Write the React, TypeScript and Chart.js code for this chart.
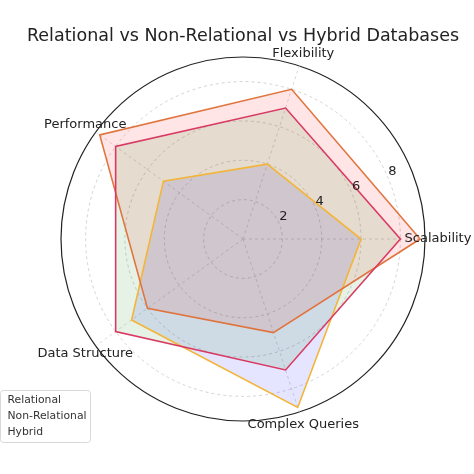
import { useEffect, useRef } from "react";
import { Chart, registerables } from "chart.js";
import type { Plugin } from "chart.js";

Chart.register(...registerables);

// clockwise from the right-hand axis (matplotlib goes the other way round)
const CATEGORIES = ["Scalability", "Complex Queries", "Data Structure", "Performance", "Flexibility"];
const SERIES_NAMES = ["Relational", "Non-Relational", "Hybrid"];
const RELATIONAL = [6, 9, 7, 5, 4];
const NON_RELATIONAL = [9, 5, 6, 9, 8];
const HYBRID = [8, 7, 8, 8, 7];
const R_TICKS = [2, 4, 6, 8];
const R_MAX = 9.25;

const LINE_COLORS = ["#f2b53a", "#e0743f", "#d93a62"];
const FILL_COLORS = ["rgba(0,0,255,0.1)", "rgba(255,0,0,0.1)", "rgba(0,128,0,0.1)"];

const FONT = "'DejaVu Sans', sans-serif";
const TITLE = "Relational vs Non-Relational vs Hybrid Databases";

const overlay: Plugin<"radar"> = {
  id: "overlay",
  afterDatasetsDraw(chart) {
    const { ctx } = chart;
    const scale = chart.scales.r as any;
    const a = (22.5 * Math.PI) / 180;
    ctx.save();
    ctx.font = `13px ${FONT}`;
    ctx.fillStyle = "#222";
    ctx.textAlign = "center";
    ctx.textBaseline = "middle";
    R_TICKS.forEach((v) => {
      const d = scale.getDistanceFromCenterForValue(v);
      const x = scale.xCenter + d * Math.cos(a) + 4;
      const y = scale.yCenter - d * Math.sin(a) - 7;
      ctx.fillText(String(v), x, y);
    });
    ctx.restore();
  },
  afterDraw(chart) {
    const { ctx } = chart;
    const scale = chart.scales.r as any;
    ctx.save();

    // title
    ctx.font = `17.5px ${FONT}`;
    ctx.fillStyle = "#222";
    ctx.textAlign = "center";
    ctx.textBaseline = "middle";
    ctx.fillText(TITLE, scale.xCenter, 36);

    // category labels
    ctx.font = `13px ${FONT}`;
    CATEGORIES.forEach((label, i) => {
      const p = scale.getPointPosition(i, scale.drawingArea + 13);
      ctx.fillText(label, p.x, p.y);
    });

    // legend (text only, like the original)
    ctx.beginPath();
    ctx.roundRect(0.5, 390.5, 90, 52, 3);
    ctx.fillStyle = "rgba(255,255,255,0.8)";
    ctx.fill();
    ctx.strokeStyle = "#d8d8d8";
    ctx.lineWidth = 1;
    ctx.stroke();
    ctx.font = `10.8px ${FONT}`;
    ctx.fillStyle = "#333";
    ctx.textAlign = "left";
    chart.data.datasets.forEach((ds, i) => {
      ctx.fillText(String(ds.label), 7.5, 400 + i * 16.3);
    });
    ctx.restore();
  },
};

export default function App() {
  const canvasRef = useRef<HTMLCanvasElement>(null);

  useEffect(() => {
    if (!canvasRef.current) return;
    const values = [RELATIONAL, NON_RELATIONAL, HYBRID];

    const chart = new Chart(canvasRef.current, {
      type: "radar",
      data: {
        labels: CATEGORIES,
        datasets: SERIES_NAMES.map((name, i) => ({
          label: name,
          data: values[i],
          borderColor: LINE_COLORS[i],
          backgroundColor: FILL_COLORS[i],
          borderWidth: 1.6,
          fill: true,
          pointRadius: 0,
          tension: 0,
          order: SERIES_NAMES.length - i,
        })),
      },
      options: {
        animation: false,
        responsive: false,
        layout: { padding: { left: 61, right: 49, top: 57, bottom: 53 } },
        plugins: {
          legend: { display: false },
          title: { display: false },
          tooltip: { enabled: false },
          // all fills under all lines, as matplotlib does with zorder
          filler: { drawTime: "beforeDatasetsDraw" },
        },
        scales: {
          r: {
            min: 0,
            max: R_MAX,
            startAngle: 90,
            afterBuildTicks: (scale: any) => {
              scale.ticks = [0, ...R_TICKS, R_MAX].map((v) => ({ value: v }));
            },
            ticks: { display: false },
            pointLabels: { display: false },
            grid: {
              circular: true,
              color: (c: any) => (c.tick && c.tick.value >= R_MAX ? "#222" : "#c8c8c8"),
              lineWidth: (c: any) => (c.tick && c.tick.value >= R_MAX ? 1.2 : 0.8),
            },
            border: {
              dash: (c: any) => (c.tick && c.tick.value >= R_MAX ? [] : [3, 3]),
            },
            angleLines: {
              color: "#cfcfcf",
              lineWidth: 0.8,
              borderDash: [3, 3],
            },
          },
        },
      },
      plugins: [overlay],
    });

    return () => chart.destroy();
  }, []);

  return (
    <div style={{ position: "fixed", left: 0, top: 0, width: 474, height: 474, background: "#fff" }}>
      <canvas ref={canvasRef} width={474} height={474} style={{ display: "block" }} />
    </div>
  );
}
